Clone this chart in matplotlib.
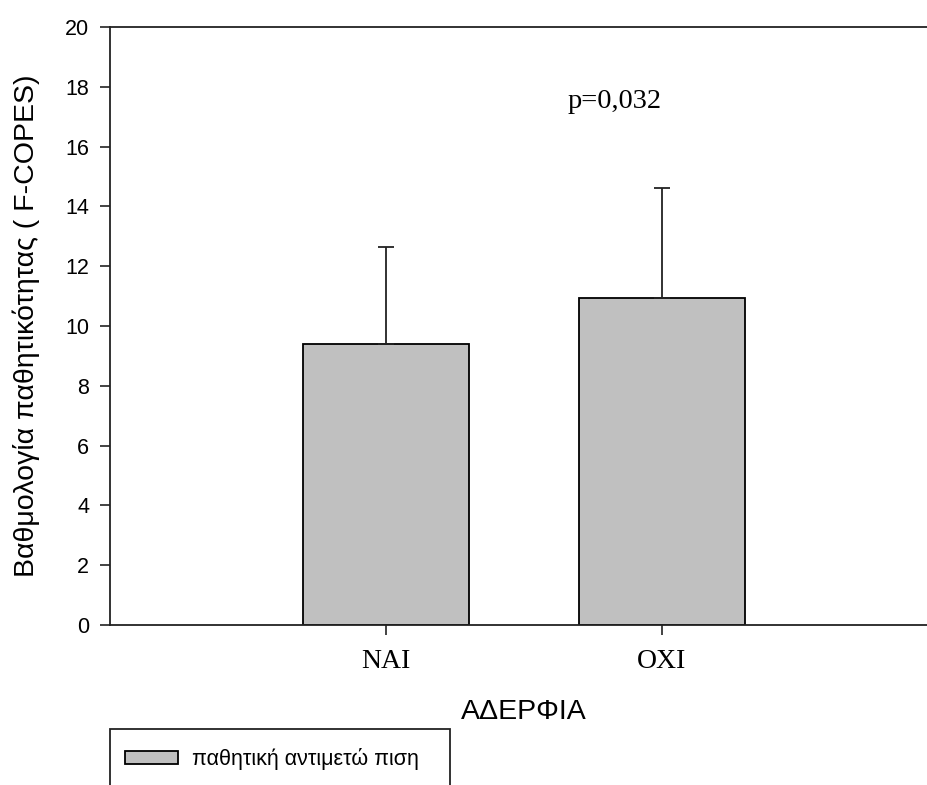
import matplotlib
matplotlib.use("Agg")
import matplotlib.pyplot as plt
from matplotlib.patches import Patch, Rectangle

categories = ["NAI", "OXI"]
means = [9.40, 10.95]
sd_upper = [3.25, 3.65]
series_label = "παθητική αντιμετώ πιση"
y_ticks = [0, 2, 4, 6, 8, 10, 12, 14, 16, 18, 20]
p_text = "p=0,032"

W, H = 928, 785
fig = plt.figure(figsize=(W / 100, H / 100), dpi=100)
ax = fig.add_axes([110 / W, (H - 625) / H, 828 / W, 598 / H])

xpos = [1, 2]
ax.bar(xpos, means, width=0.6, color="#c0c0c0", edgecolor="black", linewidth=1.3, zorder=2)
ax.errorbar(xpos, means, yerr=[[0, 0], sd_upper], fmt="none", ecolor="#222222",
            elinewidth=1.3, capsize=6, capthick=1.3, zorder=3)

ax.set_xlim(0, 3)
ax.set_ylim(0, 20)
ax.set_yticks(y_ticks)
ax.set_yticklabels([str(t) for t in y_ticks], fontfamily="Liberation Sans", fontsize=15.5)
ax.set_xticks(xpos)
ax.set_xticklabels(categories, fontfamily="Liberation Serif", fontsize=20)
ax.tick_params(axis="both", direction="out", length=7, width=1.2, color="#222222")
ax.tick_params(axis="x", pad=10.5)
ax.tick_params(axis="y", pad=8)
for s in ["left", "bottom", "top", "right"]:
    ax.spines[s].set_linewidth(1.3)
    ax.spines[s].set_color("#222222")

ax.set_ylabel("Βαθμολογία παθητικότητας ( F-COPES)", fontfamily="Liberation Sans",
              fontsize=20.5)
ax.yaxis.set_label_coords(-0.085, 0.5)
ax.set_xlabel("ΑΔΕΡΦΙΑ", fontfamily="Liberation Sans", fontsize=20.5, labelpad=18)

ax.text(2 - 0.17, 17.5, p_text, fontfamily="Liberation Serif", fontsize=20.5,
        ha="center", va="center")

# legend box (extends past the bottom edge of the figure as in the reference)
fig.patches.append(Rectangle((110 / W, -0.05), 340 / W, 0.05 + (H - 729) / H,
                             transform=fig.transFigure, facecolor="white",
                             edgecolor="#222222", linewidth=1.3, zorder=1))
handle = Patch(facecolor="#c0c0c0", edgecolor="black", linewidth=1.3)
leg = fig.legend([handle], [series_label], loc="upper left",
                 bbox_to_anchor=(110 / W, 1 - 733 / H), borderaxespad=0,
                 prop={"family": "Liberation Sans", "size": 15.5},
                 handlelength=2.45, handleheight=0.5, handletextpad=0.65, borderpad=0.7,
                 frameon=False)
leg.set_zorder(2)

fig.savefig("out.png", dpi=100)
